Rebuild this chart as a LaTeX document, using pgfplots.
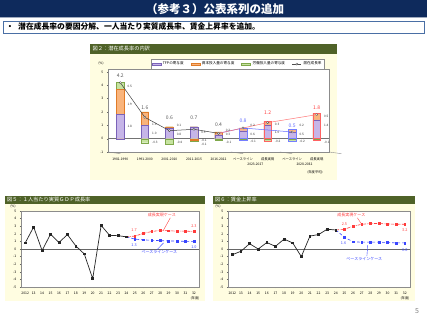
\documentclass[border=0pt]{standalone}
\usepackage{fontspec}
\setmainfont{Noto Sans CJK JP}
\usepackage{pgfplots}
\usepackage{pgfplotstable}
\pgfplotsset{compat=1.18}

\definecolor{navy}{HTML}{0E2A5C}
\definecolor{boxblue}{HTML}{4A6FA5}
\definecolor{hdrgreen}{HTML}{4F6228}
\definecolor{panel}{HTML}{FFFDE1}
\definecolor{tfp}{HTML}{C6B5E8}
\definecolor{tfpd}{HTML}{7A62B8}
\definecolor{cap}{HTML}{F9B47C}
\definecolor{capd}{HTML}{E07B28}
\definecolor{lab}{HTML}{C6E3A0}
\definecolor{labd}{HTML}{7FA84A}
\definecolor{rcase}{HTML}{FF3B3B}
\definecolor{bcase}{HTML}{3A46FF}
\newcommand{\fs}[1]{\fontsize{#1}{#1}\selectfont}

\pgfplotstableread{
x tfp cap lab
0 1.8 1.9 0.5
1 1.0 1.0 -0.3
2 0.8 0.1 -0.4
3 0.9 -0.1 -0.1
4 0.3 0.2 -0.1
5 0.6 0.2 -0.1
6 1.0 0.3 -0.2
7 0.5 0.2 -0.2
8 1.4 0.5 -0.1
}\contrib

\pgfplotstableread{
x y t
0.28 3.95 0.5
0.28 2.6 1.9
0.28 0.9 1.8
1.28 1.05 1.0
1.28 0.4 1.0
1.28 -0.3 -0.3
2.28 1.0 0.1
2.28 0.35 0.8
2.28 -0.25 -0.4
3.28 0.45 0.9
3.28 -0.12 -0.1
3.28 -0.42 -0.1
4.28 0.65 0.2
4.28 0.3 0.3
4.28 -0.3 -0.1
5.28 1.0 0.2
5.28 0.35 0.6
5.28 -0.2 -0.1
6.28 1.05 0.3
6.28 0.45 1.0
6.28 -0.2 -0.2
7.28 1.0 0.2
7.28 0.35 0.5
7.28 -0.2 -0.2
8.28 1.7 0.5
8.28 1.0 1.4
8.28 -0.25 -0.1
}\smalllab

\pgfplotsset{
  lc/.style={
    scale only axis, height=76pt,
    xmin=2011.5, xmax=2032.6, ymin=-5, ymax=5,
    axis background/.style={fill=white},
    axis line style={black!45, line width=0.4pt},
    ytick={-5,-4,...,5},
    xtick={2012,...,2032},
    xticklabels={2012,13,14,15,16,17,18,19,20,21,22,23,24,25,26,27,28,29,30,31,32},
    tick label style={font=\fs{3.4}},
    /pgf/number format/assume math mode=true,
    tick align=outside, major tick length=1.2pt,
    tick style={black!60, line width=0.3pt},
    xtick pos=bottom, ytick pos=left,
    clip=false,
  },
  act/.style={black!85, line width=0.7pt, mark=square*, mark size=0.9pt},
  grw/.style={rcase, line width=0.6pt, densely dashdotted, mark=square*, mark size=0.9pt, mark options={solid}},
  bas/.style={bcase, line width=0.6pt, densely dashed, mark=square*, mark size=0.9pt, mark options={solid}},
}

\begin{document}
\begin{tikzpicture}[x=1pt,y=1pt]
\path[use as bounding box, fill=white] (0,0) rectangle (427,320);
% title
\fill[navy] (0,303) rectangle (427,320);
\draw[white!60!navy, line width=0.6pt] (0,302.7) -- (427,302.7);
\node[text=white, font=\fs{11.5}\bfseries, inner sep=0] at (215,310.8) {（参考３）公表系列の追加};
\draw[boxblue, line width=0.9pt, fill=white] (3,287) rectangle (424,299);
\node[anchor=west, inner sep=0, font=\fs{7.8}\bfseries] at (6,293) {・};
\node[anchor=west, inner sep=0, font=\fs{7.8}\bfseries] at (18,293) {潜在成長率の要因分解、一人当たり実質成長率、賃金上昇率を追加。};
% panels
\fill[panel] (90,140) rectangle (337,276);
\fill[hdrgreen] (90,266) rectangle (337,276);
\node[anchor=west, inner sep=0, text=white, font=\fs{5.2}] at (92.5,271) {図２：潜在成長率の内訳};
\node[font=\fs{3.3}, inner sep=0] at (101,257) {(\%)};
\node[font=\fs{3.3}, inner sep=0] at (315,148) {(年度平均)};

\fill[panel] (5,19) rectangle (205,124);
\fill[hdrgreen] (5,116) rectangle (205,124);
\node[anchor=west, inner sep=0, text=white, font=\fs{5.2}] at (7,120) {図５：１人当たり実質ＧＤＰ成長率};
\fill[panel] (213,19) rectangle (415,124);
\fill[hdrgreen] (213,116) rectangle (415,124);
\node[anchor=west, inner sep=0, text=white, font=\fs{5.2}] at (215,120) {図６：賃金上昇率};
\node[font=\fs{3.3}, inner sep=0] at (13,113.5) {(\%)};
\node[font=\fs{3.3}, inner sep=0] at (218,113.5) {(\%)};
\node[font=\fs{3.3}, inner sep=0] at (195,22) {(年度)};
\node[font=\fs{3.3}, inner sep=0] at (405,22) {(年度)};
\node[font=\fs{7}, inner sep=0, text=gray] at (417,9) {5};

% ---------- chart 2 ----------
\begin{axis}[
  scale only axis, width=221pt, height=82.7pt,
  at={(108pt,168pt)}, anchor=south west,
  xmin=-0.5, xmax=8.5, ymin=-1, ymax=5.2,
  ybar, bar width=7.5pt, bar shift=0pt,
  axis background/.style={fill=white},
  axis line style={black!45, line width=0.4pt},
  ytick={-1,0,...,5}, ytick pos=left, tick align=outside,
  major tick length=1.2pt, tick style={black!60, line width=0.3pt},
  xtick={0,...,8}, xtick style={draw=none},
  xticklabels={1981-1990,1991-2000,2001-2010,2011-2015,2016-2022,ベースライン,成長実現,ベースライン,成長実現},
  tick label style={font=\fs{3.3}},
  xticklabel style={yshift=-1.2pt},
  /pgf/number format/assume math mode=true,
  unbounded coords=discard,
  clip=false,
  legend columns=4,
  legend style={at={(0.586,1.0)}, anchor=south, draw=black!45, line width=0.3pt,
    font=\fs{3.6}, inner sep=0.8pt, row sep=0pt,
    /tikz/every even column/.append style={column sep=5pt}},
]
% zero line
\draw[black!55, line width=0.4pt] (axis cs:-0.5,0) -- (axis cs:8.5,0);
% positive stacks (drawn tallest first)
\addplot[fill=lab, draw=labd, line width=0.3pt, forget plot]
  table[x=x, y expr={\thisrow{tfp}+max(\thisrow{cap},0)+max(\thisrow{lab},0)}] {\contrib};
\addplot[fill=cap, draw=capd, line width=0.3pt, forget plot]
  table[x=x, y expr={\thisrow{tfp}+max(\thisrow{cap},0)}] {\contrib};
\addplot[fill=tfp, draw=tfpd, line width=0.3pt, forget plot]
  table[x=x, y=tfp] {\contrib};
% negative stacks
\addplot[fill=lab, draw=labd, line width=0.3pt, forget plot, y filter/.expression={abs(y)<0.001 ? nan : y}]
  table[x=x, y expr={min(\thisrow{cap},0)+min(\thisrow{lab},0)}] {\contrib};
\addplot[fill=cap, draw=capd, line width=0.3pt, forget plot, y filter/.expression={abs(y)<0.001 ? nan : y}]
  table[x=x, y expr={min(\thisrow{cap},0)}] {\contrib};
% case outlines
\addplot[fill=none, draw=bcase!70, line width=0.5pt, forget plot] coordinates {(5,0.8) (7,0.7)};
\addplot[fill=none, draw=bcase!70, line width=0.5pt, forget plot] coordinates {(5,-0.1) (7,-0.2)};
\addplot[fill=none, draw=rcase!80, line width=0.5pt, forget plot] coordinates {(6,1.3) (8,1.9)};
\addplot[fill=none, draw=rcase!80, line width=0.5pt, forget plot] coordinates {(6,-0.2) (8,-0.1)};
% lines
\addplot[sharp plot, bcase!80, line width=0.5pt, mark=*, mark size=1.1pt, mark options={fill=white, draw=black!70, line width=0.3pt}, forget plot]
  coordinates {(4,0.4) (5,0.8) (7,0.5)};
\addplot[sharp plot, rcase!70, line width=0.5pt, mark=*, mark size=1.1pt, mark options={fill=white, draw=black!70, line width=0.3pt}, forget plot]
  coordinates {(4,0.4) (6,1.2) (8,1.8)};
\addplot[sharp plot, black!75, line width=0.5pt, mark=*, mark size=1.1pt, mark options={fill=white, draw=black!75, line width=0.3pt}, forget plot]
  coordinates {(0,4.2) (1,1.6) (2,0.6) (3,0.7) (4,0.4)};
% small value labels
\addplot[only marks, mark=none, forget plot, nodes near coords, point meta=explicit symbolic,
  nodes near coords style={anchor=west, font=\fs{3.1}, inner sep=0.3pt, text=black!80}]
  table[x=x, y=y, meta=t] {\smalllab};
% total labels
\addplot[only marks, mark=none, forget plot, nodes near coords, point meta=explicit symbolic,
  nodes near coords style={anchor=center, font=\fs{5}, inner sep=0pt, text=black!65}]
  table[meta=t] {
x y t
0 4.7 4.2
1 2.35 1.6
2 1.55 0.6
3 1.6 0.7
4 1.05 0.4
};
\addplot[only marks, mark=none, forget plot, nodes near coords, point meta=explicit symbolic,
  nodes near coords style={anchor=center, font=\fs{5}, inner sep=0pt, text=bcase!80}]
  table[meta=t] {
x y t
5 1.35 0.8
7 1.0 0.5
};
\addplot[only marks, mark=none, forget plot, nodes near coords, point meta=explicit symbolic,
  nodes near coords style={anchor=center, font=\fs{5}, inner sep=0pt, text=rcase}]
  table[meta=t] {
x y t
6 1.95 1.2
8 2.3 1.8
};
% separators and group labels
\draw[black!45, line width=0.4pt] (axis cs:-0.5,-1) -- ++(0,-15pt);
\draw[black!45, line width=0.4pt] (axis cs:4.5,-1) -- ++(0,-15pt);
\draw[black!45, line width=0.4pt] (axis cs:6.5,-1) -- ++(0,-15pt);
\draw[black!45, line width=0.4pt] (axis cs:8.5,-1) -- ++(0,-15pt);
\node[font=\fs{3.3}, inner sep=0] at ([yshift=-12pt]axis cs:5.5,-1) {2023-2027};
\node[font=\fs{3.3}, inner sep=0] at ([yshift=-12pt]axis cs:7.5,-1) {2028-2032};
% legend
\addlegendimage{legend image code/.code={\draw[fill=tfp,draw=tfpd,line width=0.3pt] (0pt,-1pt) rectangle (9pt,1pt);}}
\addlegendentry{TFPの寄与度}
\addlegendimage{legend image code/.code={\draw[fill=cap,draw=capd,line width=0.3pt] (0pt,-1pt) rectangle (9pt,1pt);}}
\addlegendentry{資本投入量の寄与度}
\addlegendimage{legend image code/.code={\draw[fill=lab,draw=labd,line width=0.3pt] (0pt,-1pt) rectangle (9pt,1pt);}}
\addlegendentry{労働投入量の寄与度}
\addlegendimage{legend image code/.code={\draw[black!70,line width=0.4pt] (0pt,0pt) -- (9pt,0pt); \draw[black!70,fill=white,line width=0.3pt] (4.5pt,0pt) circle (1.1pt);}}
\addlegendentry{潜在成長率}
\end{axis}

% ---------- chart 5 ----------
\begin{axis}[lc, width=178pt, at={(21pt,33pt)}, anchor=south west]
\draw[black!60, line width=0.4pt] (axis cs:2011.5,0) -- (axis cs:2032.6,0);
\addplot[grw] coordinates {(2024,1.6) (2025,1.7) (2026,2.05) (2027,2.3) (2028,2.45) (2029,2.4) (2030,2.35) (2031,2.35) (2032,2.3)};
\addplot[bas] coordinates {(2024,1.6) (2025,1.3) (2026,1.2) (2027,1.15) (2028,1.1) (2029,1.05) (2030,1.05) (2031,1.0) (2032,1.0)};
\addplot[act] coordinates {(2012,0.8) (2013,2.9) (2014,-0.2) (2015,1.95) (2016,0.85) (2017,1.9) (2018,0.4) (2019,-0.65) (2020,-3.9) (2021,3.1) (2022,1.8) (2023,1.75) (2024,1.6)};
\node[font=\fs{3.8}, text=rcase, inner sep=0] at (axis cs:2024.9,2.45) {1.7};
\node[font=\fs{3.8}, text=bcase, inner sep=0] at (axis cs:2024.9,0.5) {1.3};
\node[font=\fs{3.8}, text=rcase, inner sep=0] at (axis cs:2032,3.0) {2.3};
\node[font=\fs{3.8}, text=bcase, inner sep=0] at (axis cs:2032,0.3) {1.0};
\node[font=\fs{4}, text=rcase, inner sep=0] at (axis cs:2028.2,4.5) {成長実現ケース};
\draw[rcase, line width=0.4pt] (axis cs:2029.2,4.1) -- (axis cs:2028.4,2.5);
\node[font=\fs{4}, text=bcase, inner sep=0] at (axis cs:2027.9,-0.45) {ベースラインケース};
\draw[bcase, line width=0.4pt] (axis cs:2027.6,-0.1) -- (axis cs:2028.4,0.8);
\end{axis}

% ---------- chart 6 ----------
\begin{axis}[lc, width=182pt, at={(228pt,33pt)}, anchor=south west]
\draw[black!60, line width=0.4pt] (axis cs:2011.5,0) -- (axis cs:2032.6,0);
\addplot[grw] coordinates {(2024,2.5) (2025,2.6) (2026,3.0) (2027,3.25) (2028,3.35) (2029,3.35) (2030,3.3) (2031,3.25) (2032,3.25)};
\addplot[bas] coordinates {(2024,2.5) (2025,1.55) (2026,0.95) (2027,0.9) (2028,0.9) (2029,0.9) (2030,0.85) (2031,0.8) (2032,0.8)};
\addplot[act] coordinates {(2012,-0.75) (2013,-0.3) (2014,0.7) (2015,0.0) (2016,0.85) (2017,0.35) (2018,1.3) (2019,0.8) (2020,-1.0) (2021,1.7) (2022,1.9) (2023,2.6) (2024,2.5)};
\node[font=\fs{3.8}, text=rcase, inner sep=0] at (axis cs:2025,3.3) {2.5};
\node[font=\fs{3.8}, text=bcase, inner sep=0] at (axis cs:2024.9,0.8) {1.6};
\node[font=\fs{3.8}, text=rcase, inner sep=0] at (axis cs:2032,2.5) {3.2};
\node[font=\fs{3.8}, text=bcase, inner sep=0] at (axis cs:2032,-0.1) {0.8};
\node[font=\fs{4}, text=rcase, inner sep=0] at (axis cs:2025.8,4.5) {成長実現ケース};
\draw[rcase, line width=0.4pt] (axis cs:2026.5,4.1) -- (axis cs:2027,3.25);
\node[font=\fs{4}, text=bcase, inner sep=0] at (axis cs:2027.3,-1.3) {ベースラインケース};
\draw[bcase, line width=0.4pt] (axis cs:2027.6,-0.95) -- (axis cs:2027.7,0.5);
\end{axis}
\end{tikzpicture}
\end{document}
